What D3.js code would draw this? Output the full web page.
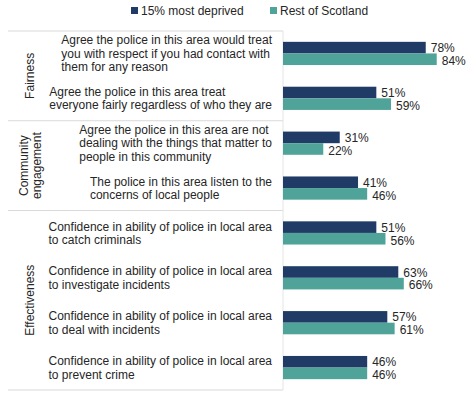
<!DOCTYPE html>
<html>
<head>
<meta charset="utf-8">
<script src="https://cdn.jsdelivr.net/npm/d3@7"></script>
<style>
  body { margin: 0; background: #fff; }
  svg text { font-family: "Liberation Sans", Arial, sans-serif; fill: #262626; }
</style>
</head>
<body>
<div id="chart"></div>
<script>
// data
var categories = [
    ["Agree the police in this area would treat", "you with respect if you had contact with", "them for any reason"],
    ["Agree the police in this area treat", "everyone fairly regardless of who they are"],
    ["Agree the police in this area are not", "dealing with the things that matter to", "people in this community"],
    ["The police in this area listen to the", "concerns of local people"],
    ["Confidence in ability of police in local area", "to catch criminals"],
    ["Confidence in ability of police in local area", "to investigate incidents"],
    ["Confidence in ability of police in local area", "to deal with incidents"],
    ["Confidence in ability of police in local area", "to prevent crime"]
];
var mostDeprived = [78, 51, 31, 41, 51, 63, 57, 46];
var restOfScotland = [84, 59, 22, 46, 56, 66, 61, 46];
var seriesNames = ["15% most deprived", "Rest of Scotland"];
var groupNames = [["Fairness"], ["Community", "engagement"], ["Effectiveness"]];
var groupSizes = [2, 2, 4];

var colors = ["#1f3b66", "#4fa399"];

var chart = {
    svgWidth: 474,
    svgHeight: 398,
    margin: {"top": 31, "bottom": 8, "left": 283, "right": 8}
};

var svg = d3.select("#chart").append("svg")
    .attr("width", chart.svgWidth)
    .attr("height", chart.svgHeight);

var idx = d3.range(categories.length);

var yScale = d3.scaleBand()
    .domain(idx)
    .range([chart.margin.top, chart.svgHeight - chart.margin.bottom]);

var xScale = d3.scaleLinear()
    .domain([0, 100])
    .range([chart.margin.left, chart.margin.left + 183]);

var barH = 11.6;

// group separators
var bounds = [0];
groupSizes.forEach(function(n, i) { bounds.push(bounds[i] + n); });

svg.selectAll("line.sep")
    .data(bounds)
    .enter().append("line")
    .attr("class", "sep")
    .attr("x1", 8)
    .attr("x2", xScale(0))
    .attr("y1", d => d < idx.length ? yScale(d) : yScale.range()[1])
    .attr("y2", d => d < idx.length ? yScale(d) : yScale.range()[1])
    .attr("stroke", "#d9d9d9")
    .attr("stroke-width", 1);

// axis line
svg.append("line")
    .attr("x1", xScale(0)).attr("x2", xScale(0))
    .attr("y1", yScale.range()[0]).attr("y2", yScale.range()[1])
    .attr("stroke", "#e4e4e4")
    .attr("stroke-width", 1);

// bars + value labels
var series = [mostDeprived, restOfScotland];
var labelDy = [4.5, 5.8];
series.forEach(function(vals, s) {
    svg.selectAll("rect.s" + s)
        .data(vals)
        .enter().append("rect")
        .attr("class", "s" + s)
        .attr("x", xScale(0))
        .attr("y", (d, i) => yScale(i) + yScale.bandwidth() / 2 - barH + s * barH)
        .attr("width", d => xScale(d) - xScale(0))
        .attr("height", barH)
        .attr("fill", colors[s]);

    svg.selectAll("text.v" + s)
        .data(vals)
        .enter().append("text")
        .attr("class", "v" + s)
        .attr("x", d => xScale(d) + 5)
        .attr("y", (d, i) => yScale(i) + yScale.bandwidth() / 2 - barH + s * barH + barH / 2 + labelDy[s])
        .attr("font-size", 12)
        .text(d => d + "%");
});

// category labels: lines left-aligned, block right-aligned at x=272
var lineH = 13.3;
categories.forEach(function(lines, i) {
    var cy = yScale(i) + yScale.bandwidth() / 2;
    var t = svg.append("text")
        .attr("font-size", 12);
    var spans = lines.map(function(l, j) {
        return t.append("tspan")
            .attr("y", cy + (j - (lines.length - 1) / 2) * lineH + 4.3)
            .text(l);
    });
    var w = d3.max(spans, sp => sp.node().getComputedTextLength());
    spans.forEach(sp => sp.attr("x", 272 - w));
});

// group labels (rotated)
groupNames.forEach(function(lines, g) {
    var y0 = yScale(bounds[g]);
    var y1 = bounds[g + 1] < idx.length ? yScale(bounds[g + 1]) : yScale.range()[1];
    var cy = (y0 + y1) / 2;
    var t = svg.append("text")
        .attr("text-anchor", "middle")
        .attr("font-size", 12)
        .attr("transform", "translate(30," + cy + ") rotate(-90)");
    lines.forEach(function(l, j) {
        t.append("tspan")
            .attr("x", 0)
            .attr("y", (j - (lines.length - 1) / 2) * 13 + 4.3)
            .text(l);
    });
});

// legend
var legendX = [131, 270];
seriesNames.forEach(function(name, s) {
    svg.append("rect")
        .attr("x", legendX[s])
        .attr("y", 7)
        .attr("width", 7)
        .attr("height", 7)
        .attr("fill", colors[s]);
    svg.append("text")
        .attr("x", legendX[s] + 10)
        .attr("y", 14.5)
        .attr("font-size", 12)
        .text(name);
});
</script>
</body>
</html>
